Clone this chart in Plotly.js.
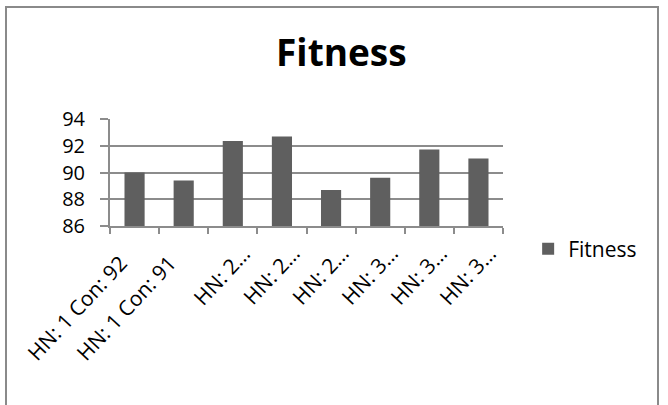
<!DOCTYPE html>
<html>
<head>
<meta charset="utf-8">
<script src="https://cdn.plot.ly/plotly-3.0.1.min.js"></script>
<style>
  html, body { margin: 0; padding: 0; background: #ffffff; }
  #wrap { position: relative; width: 668px; height: 405px; overflow: hidden; }
  #chart { position: absolute; left: 0; top: 0; width: 668px; height: 405px; }
  #frame {
    position: absolute; left: 5px; top: 6px; width: 654px; height: 420px;
    border: 2px solid #8a8a8a; pointer-events: none; box-sizing: border-box;
  }
</style>
</head>
<body>
<div id="wrap">
  <div id="chart"></div>
  <div id="frame"></div>
</div>
<script>
// Network configurations (hidden neurons / connections) and their fitness
const categories = ["c1", "c2", "c3", "c4", "c5", "c6", "c7", "c8"];
const categoryLabels = [
  "HN: 1 Con: 92",
  "HN: 1 Con: 91",
  "HN: 2\u2026",
  "HN: 2\u2026",
  "HN: 2\u2026",
  "HN: 3\u2026",
  "HN: 3\u2026",
  "HN: 3\u2026"
];
const fitness = [90.0, 89.4, 92.35, 92.7, 88.7, 89.6, 91.72, 91.05];
const yTicks = [86, 88, 90, 92, 94];
const seriesName = "Fitness";

const FONT = "Open Sans, Lato, sans-serif";
const GRID = "#8c8c8c";

const trace = {
  type: "bar",
  name: seriesName,
  x: categories,
  y: fitness,
  marker: { color: "#5f5f5f", line: { width: 0 } },
  showlegend: true,
  hoverinfo: "y"
};

// Slanted category labels hung under the axis, anchored by their upper-right corner
const labelAnnotations = categories.map((c, i) => {
  const label = categoryLabels[i];
  const truncated = label.endsWith("\u2026");
  return {
    x: i, xref: "x",
    y: 0, yref: "paper",
    text: label,
    showarrow: false,
    textangle: -47,
    xanchor: "right", yanchor: "top",
    xshift: truncated ? 25 : -1,
    yshift: truncated ? -12 : -22,
    font: { family: FONT, size: 21, color: "#000000" },
    borderpad: 0
  };
});

const layout = {
  width: 668,
  height: 405,
  margin: { l: 110, r: 165, t: 119, b: 179, pad: 0 },
  paper_bgcolor: "#ffffff",
  plot_bgcolor: "#ffffff",
  bargap: 0.59,
  font: { family: FONT, color: "#000000", size: 18 },
  title: {
    text: "<b>Fitness</b>",
    font: { family: FONT, size: 37, color: "#000000" },
    x: 0.511, xref: "container", xanchor: "center",
    y: 0.868, yref: "container", yanchor: "middle"
  },
  xaxis: {
    type: "category",
    categoryarray: categories,
    range: [-0.5, categories.length - 0.5],
    tickson: "boundaries",
    ticks: "outside",
    ticklen: 6,
    tickcolor: GRID,
    tickwidth: 2,
    showline: true,
    linecolor: GRID,
    linewidth: 2,
    showgrid: false,
    showticklabels: false,
    fixedrange: true
  },
  yaxis: {
    range: [86, 94],
    tickvals: yTicks,
    ticktext: yTicks.map(String),
    ticks: "outside",
    ticklen: 8,
    tickcolor: GRID,
    tickwidth: 2,
    showline: true,
    linecolor: GRID,
    linewidth: 2,
    showgrid: true,
    gridcolor: GRID,
    gridwidth: 2,
    zeroline: false,
    ticklabelstandoff: 11,
    tickfont: { family: FONT, size: 20, color: "#000000" },
    fixedrange: true
  },
  annotations: labelAnnotations,
  showlegend: true,
  legend: {
    x: 1.064, xref: "paper", xanchor: "left",
    y: -0.215, yref: "paper", yanchor: "middle",
    font: { family: FONT, size: 21, color: "#000000" },
    bgcolor: "rgba(0,0,0,0)",
    itemwidth: 30,
    tracegroupgap: 0
  }
};

Plotly.newPlot("chart", [trace], layout, { staticPlot: true, displayModeBar: false });
</script>
</body>
</html>
